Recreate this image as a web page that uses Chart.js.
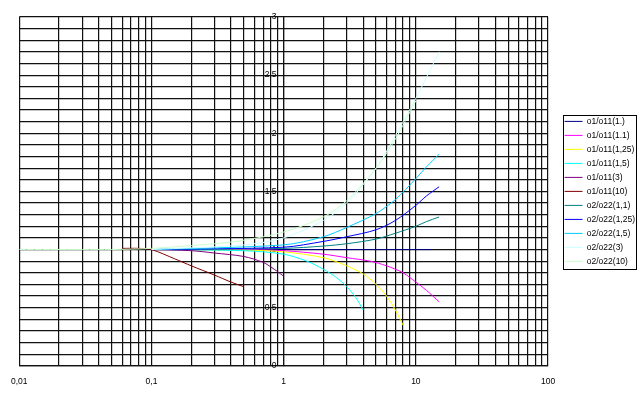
<!DOCTYPE html>
<html>
<head>
<meta charset="utf-8">
<script src="https://cdn.jsdelivr.net/npm/chart.js@4/dist/chart.umd.min.js"></script>
<style>
  body { margin: 0; background: #fff; }
  #wrap { width: 642px; height: 400px; }
</style>
</head>
<body>
<div id="wrap"><canvas id="ratioChart" width="642" height="400"></canvas></div>
<script>
// series names and colours (Excel default line colours)
const seriesNames = ['o1/o11(1.)', 'o1/o11(1.1)', 'o1/o11(1,25)', 'o1/o11(1,5)', 'o1/o11(3)', 'o1/o11(10)',
  'o2/o22(1,1)', 'o2/o22(1,25)', 'o2/o22(1,5)', 'o2/o22(3)', 'o2/o22(10)'];
const seriesColors = ['#000080', '#FF00FF', '#FFFF00', '#00FFFF', '#800080', '#800000',
  '#008080', '#0000FF', '#00CCFF', '#CCFFFF', '#CCFFCC'];

// values
const o1_10_x = [0.1, 1, 13];
const o1_10_y = [1, 1, 1];
const o1_11_x = [0.1, 0.5, 1, 2, 3, 4.5, 6, 8, 10, 12, 15];
const o1_11_y = [1, 1, 0.99, 0.96, 0.93, 0.9, 0.86, 0.8, 0.72, 0.65, 0.55];
const o1_125_x = [0.1, 0.5, 1, 2, 3, 4, 5, 6, 7, 8];
const o1_125_y = [1, 0.995, 0.98, 0.93, 0.86, 0.79, 0.7, 0.6, 0.48, 0.35];
const o1_15_x = [0.1, 0.5, 1, 1.5, 2, 2.5, 3, 3.5, 4];
const o1_15_y = [1, 0.99, 0.96, 0.9, 0.83, 0.76, 0.68, 0.59, 0.48];
const o1_3_x = [0.1, 0.2, 0.3, 0.5, 0.7, 0.8, 0.9, 1];
const o1_3_y = [1, 0.99, 0.97, 0.94, 0.89, 0.85, 0.81, 0.77];
const o1_100_x = [0.06, 0.08, 0.1, 0.15, 0.2, 0.3, 0.4, 0.5];
const o1_100_y = [1.01, 1.01, 1, 0.92, 0.86, 0.78, 0.72, 0.68];

const o2_11_x = [0.1, 1, 2, 3, 5, 7, 10, 12, 15];
const o2_11_y = [1, 1.01, 1.03, 1.05, 1.09, 1.14, 1.2, 1.24, 1.28];
const o2_125_x = [0.1, 1, 2, 3, 5, 7, 10, 12, 15];
const o2_125_y = [1, 1.02, 1.07, 1.11, 1.17, 1.25, 1.38, 1.46, 1.54];
const o2_15_x = [0.1, 1, 2, 3, 5, 7, 10, 12, 15];
const o2_15_y = [1, 1.04, 1.11, 1.19, 1.31, 1.43, 1.61, 1.71, 1.82];
const o2_3_x = [0.1, 0.5, 1, 2, 3, 5, 7, 10, 15];
const o2_3_y = [1, 1.04, 1.1, 1.25, 1.4, 1.7, 1.98, 2.3, 2.7];
const o2_100_x = [0.01, 0.03, 0.05, 0.1, 0.3, 0.5, 1, 2, 3, 5, 7, 10];
const o2_100_y = [1, 1, 1, 1.01, 1.05, 1.08, 1.15, 1.28, 1.42, 1.7, 1.95, 2.28];

const seriesX = [o1_10_x, o1_11_x, o1_125_x, o1_15_x, o1_3_x, o1_100_x, o2_11_x, o2_125_x, o2_15_x, o2_3_x, o2_100_x];
const seriesY = [o1_10_y, o1_11_y, o1_125_y, o1_15_y, o1_3_y, o1_100_y, o2_11_y, o2_125_y, o2_15_y, o2_3_y, o2_100_y];

const xTickValues = [0.01, 0.1, 1, 10, 100];
const xTickLabels = ['0,01', '0,1', '1', '10', '100'];
const yTickValues = [0, 0.5, 1, 1.5, 2, 2.5, 3];
const yTickLabels = ['0', '0,5', '1', '1,5', '2', '2,5', '3'];

const gridColor = '#111';
const fontFamily = '"Liberation Sans", Arial, sans-serif';

function labelFor(v, values, labels) {
  for (let i = 0; i < values.length; i++) {
    if (Math.abs(v - values[i]) < 1e-6 * Math.max(1, values[i])) return labels[i];
  }
  return '';
}

const datasets = seriesNames.map((name, i) => ({
  label: name,
  data: seriesX[i].map((x, j) => ({ x: x, y: seriesY[i][j] })),
  borderColor: seriesColors[i],
  backgroundColor: seriesColors[i],
  borderWidth: 1,
  pointRadius: 0,
  tension: 0.3,
  fill: false,
  order: -i
}));

// push the legend away from the plot and frame it
const legendFrame = {
  id: 'legendFrame',
  afterLayout(chart) {
    const lg = chart.legend;
    lg.left += 11;
    lg.right += 11;
  },
  afterDraw(chart) {
    const lg = chart.legend;
    const ctx = chart.ctx;
    const n = seriesNames.length;
    const step = 14;
    const midY = (lg.top + lg.bottom) / 2;
    ctx.save();
    ctx.strokeStyle = '#000';
    ctx.lineWidth = 1;
    ctx.strokeRect(Math.round(lg.left) + 4.5, Math.round(midY - n * step / 2) + 1.5, 73, n * step);
    ctx.restore();
  }
};

new Chart(document.getElementById('ratioChart'), {
  type: 'line',
  data: { datasets: datasets },
  options: {
    responsive: false,
    animation: false,
    layout: { padding: { top: 17, left: 19, right: 8, bottom: 2 } },
    scales: {
      x: {
        type: 'logarithmic',
        min: 0.01,
        max: 100,
        afterBuildTicks(scale) {
          const ticks = [];
          for (let e = -2; e <= 1; e++) {
            for (let m = 1; m <= 9; m++) ticks.push({ value: m * Math.pow(10, e) });
          }
          ticks.push({ value: 100 });
          scale.ticks = ticks;
        },
        ticks: {
          autoSkip: false,
          maxRotation: 0,
          padding: 11,
          color: '#000',
          font: { family: fontFamily, size: 8.5 },
          callback: (v) => labelFor(v, xTickValues, xTickLabels)
        },
        grid: { color: gridColor, lineWidth: 1.2, drawTicks: false },
        border: { color: gridColor, width: 1.2 }
      },
      y: {
        type: 'linear',
        position: { x: 1 },
        min: 0,
        max: 3,
        ticks: {
          stepSize: 0.1,
          autoSkip: false,
          color: '#000',
          font: { family: fontFamily, size: 8.5 },
          // labels sit left of the axis that crosses at x = 1
          callback: (v) => {
            const t = labelFor(v, yTickValues, yTickLabels);
            return t ? t + '   ' : '';
          }
        },
        grid: { color: gridColor, lineWidth: 1.2, drawTicks: false },
        border: { color: gridColor, width: 1.2 }
      }
    },
    plugins: {
      legend: {
        position: 'right',
        fullSize: false,
        labels: {
          usePointStyle: true,
          pointStyle: 'line',
          pointStyleWidth: 18,
          padding: 5.5,
          color: '#000',
          font: { family: fontFamily, size: 8.5 },
          sort: (a, b) => a.datasetIndex - b.datasetIndex
        }
      },
      tooltip: { enabled: false }
    }
  },
  plugins: [legendFrame]
});
</script>
</body>
</html>
